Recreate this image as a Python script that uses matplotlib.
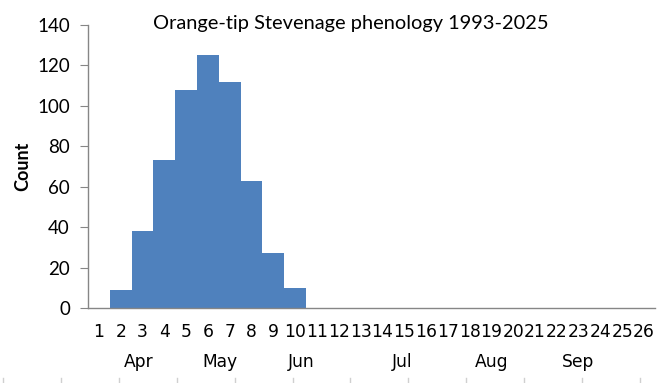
import numpy as np
import matplotlib
matplotlib.use("Agg")
import matplotlib.pyplot as plt
from matplotlib.lines import Line2D

# weekly counts, weeks 1-26 starting early April
weeks = list(range(1, 27))
counts = [0, 9, 38, 73, 108, 125, 112, 63, 27, 10,
          0, 0, 0, 0, 0, 0, 0, 0, 0, 0, 0, 0, 0, 0, 0, 0]
months = ["Apr", "May", "Jun", "Jul", "Aug", "Sep"]
month_pos = [2.82, 6.53, 10.27, 14.92, 19.02, 22.97]

title = "Orange-tip Stevenage phenology 1993-2025"
head_font = "Lato"
cat_font = "DejaVu Sans"
grey = "#868686"

fig = plt.figure(figsize=(6.63, 3.83), dpi=100)
ax = fig.add_axes([88 / 663, 75 / 383, 567 / 663, 283 / 383])

ax.bar(weeks, counts, width=1.0, color="#4F81BD", linewidth=0)

ax.set_xlim(0.5, 26.5)
ax.set_ylim(0, 140)
ax.set_yticks(np.arange(0, 141, 20))
ax.set_xticks(weeks)
ax.set_xticklabels([str(w) for w in weeks], family=cat_font, fontsize=12.3)
ax.tick_params(axis="x", length=0, pad=11)
ax.tick_params(axis="y", length=6, color=grey, pad=7, labelsize=13.5)
for lab in ax.get_yticklabels():
    lab.set_family(head_font)

for s in ["top", "right"]:
    ax.spines[s].set_visible(False)
for s in ["left", "bottom"]:
    ax.spines[s].set_color(grey)
    ax.spines[s].set_linewidth(1.0)

# month row under the week numbers
tr = ax.get_xaxis_transform()
for m, x in zip(months, month_pos):
    ax.text(x, -0.19, m, transform=tr, ha="center", va="center",
            family=cat_font, fontsize=12.3)

ax.set_ylabel("Count", family=head_font, fontsize=13, fontweight="bold")
ax.yaxis.set_label_coords(-0.10, 0.5)

fig.text(351 / 663, 1 - 24 / 383, title, ha="center", va="center",
         family=head_font, fontsize=14.4)

# faint ticks along the bottom edge
for px in np.arange(3, 663, 57.9):
    fig.add_artist(Line2D([px / 663, px / 663], [0, 5 / 383],
                          transform=fig.transFigure, color="#d0d0d0", lw=1))

fig.savefig("out.png", dpi=100)
